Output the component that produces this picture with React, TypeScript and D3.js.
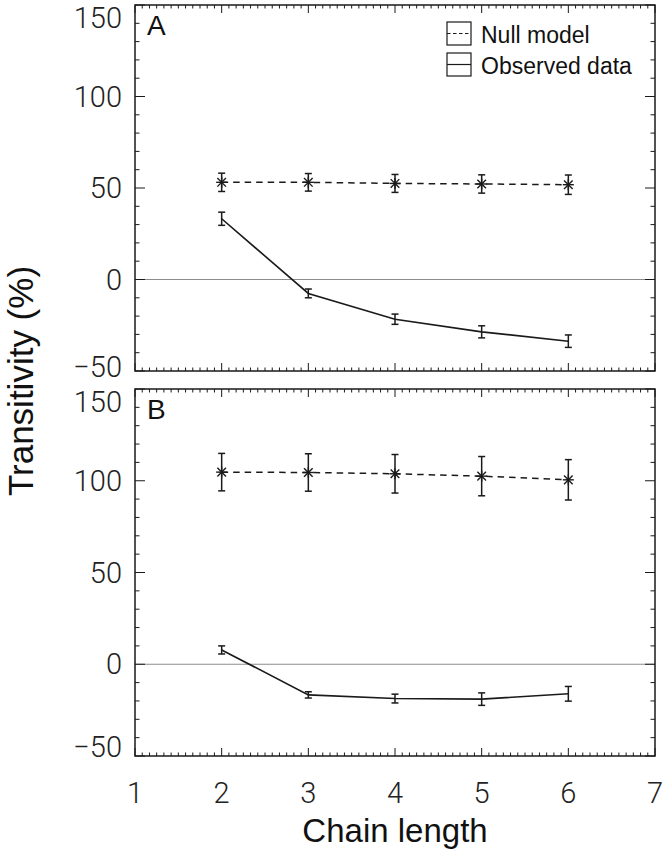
import React from "react";
import * as d3 from "d3";

const chainLength = [2, 3, 4, 5, 6];
const xTickValues = [1, 2, 3, 4, 5, 6, 7];
const yTickValues = [-50, 0, 50, 100, 150];

const nullA = [53.1, 53.1, 52.5, 52.2, 51.8];
const nullAErr = [5.0, 4.8, 4.9, 5.0, 5.3];
const obsA = [33.2, -7.6, -21.7, -28.6, -33.7];
const obsAErr = [3.6, 2.4, 2.8, 3.3, 3.4];

const nullB = [104.7, 104.5, 103.8, 102.5, 100.5];
const nullBErr = [10.2, 10.2, 10.5, 10.7, 11.0];
const obsB = [7.8, -16.7, -18.7, -19.0, -16.1];
const obsBErr = [2.2, 1.7, 2.4, 3.4, 4.0];

const panelLabels = ["A", "B"];
const legendLabels = ["Null model", "Observed data"];
const xTitle = "Chain length";
const yTitle = "Transitivity (%)";

const W = 666;
const H = 855;
const LEFT = 135;
const RIGHT = 655;
const INK = "#1a1a1a";
const TICK_FONT = "Roboto, 'Liberation Sans', Arial, sans-serif";
const TEXT_FONT = "'Liberation Sans', Arial, Helvetica, sans-serif";

const x = d3.scaleLinear().domain([1, 7]).range([LEFT, RIGHT]);
const xMinor = d3.range(1, 7 + 1e-9, 1 / 12);
const yMinor = d3.range(-50, 150 + 1e-9, 10);

type PanelProps = {
  top: number;
  bottom: number;
  label: string;
  nullV: number[];
  nullE: number[];
  obsV: number[];
  obsE: number[];
  isFirst: boolean;
  isLast: boolean;
};

function Panel({ top, bottom, label, nullV, nullE, obsV, obsE, isFirst, isLast }: PanelProps) {
  const y = d3.scaleLinear().domain([-50, 150]).range([bottom, top]);
  const line = d3
    .line<number>()
    .x((_, i) => x(chainLength[i]))
    .y((v) => y(v));
  const cap = 3.5;
  const r = 5.5;
  const rd = 4.3;

  const errBars = (vals: number[], errs: number[], key: string) =>
    vals.map((v, i) => {
      const cx = x(chainLength[i]);
      const y1 = y(v + errs[i]);
      const y2 = y(v - errs[i]);
      return (
        <g key={key + i} stroke={INK} strokeWidth={1.5}>
          <line x1={cx} x2={cx} y1={y1} y2={y2} />
          <line x1={cx - cap} x2={cx + cap} y1={y1} y2={y1} />
          <line x1={cx - cap} x2={cx + cap} y1={y2} y2={y2} />
        </g>
      );
    });

  const labelOffset = (t: number) => {
    if (t === 150) return 13;
    if (t === -50 && isLast) return -9;
    if (t === -50) return -4;
    return 0;
  };

  return (
    <g>
      <line x1={LEFT} x2={RIGHT} y1={y(0)} y2={y(0)} stroke="#8c8c8c" strokeWidth={1.2} />
      {xMinor.map((t, i) => {
        const major = Math.abs(t - Math.round(t)) < 1e-6;
        const len = major ? 8 : 3.5;
        return (
          <g key={"xt" + i} stroke={INK} strokeWidth={1}>
            <line x1={x(t)} x2={x(t)} y1={bottom} y2={bottom - len} />
            <line x1={x(t)} x2={x(t)} y1={top} y2={top + len} />
          </g>
        );
      })}
      {yMinor.map((t, i) => {
        const major = t % 50 === 0;
        const len = major ? 10 : 4.5;
        return (
          <g key={"yt" + i} stroke={INK} strokeWidth={1}>
            <line x1={LEFT} x2={LEFT + len} y1={y(t)} y2={y(t)} />
            <line x1={RIGHT} x2={RIGHT - len} y1={y(t)} y2={y(t)} />
          </g>
        );
      })}
      {yTickValues.map((t) => (
        <text
          key={"yl" + t}
          x={122}
          y={y(t) + labelOffset(t)}
          textAnchor="end"
          dominantBaseline="central"
          fontFamily={TICK_FONT}
          fontWeight={300}
          fontSize={29}
          fill="#222"
        >
          {t < 0 ? "\u2212" + Math.abs(t) : String(t)}
        </text>
      ))}
      <rect x={LEFT} y={top} width={RIGHT - LEFT} height={bottom - top} fill="none" stroke={INK} strokeWidth={1.5} />
      <text x={147} y={top + 30} fontFamily={TEXT_FONT} fontSize={28} fill="#111">
        {label}
      </text>
      <path d={line(nullV) || ""} fill="none" stroke={INK} strokeWidth={1.5} strokeDasharray="6.5,5" />
      {errBars(nullV, nullE, "ne")}
      {nullV.map((v, i) => {
        const cx = x(chainLength[i]);
        const cy = y(v);
        return (
          <g key={"m" + i} stroke={INK} strokeWidth={1.4}>
            <line x1={cx - r} x2={cx + r} y1={cy} y2={cy} />
            <line x1={cx} x2={cx} y1={cy - r} y2={cy + r} />
            <line x1={cx - rd} x2={cx + rd} y1={cy - rd} y2={cy + rd} />
            <line x1={cx - rd} x2={cx + rd} y1={cy + rd} y2={cy - rd} />
          </g>
        );
      })}
      <path d={line(obsV) || ""} fill="none" stroke={INK} strokeWidth={1.6} />
      {errBars(obsV, obsE, "oe")}
      {isLast &&
        xTickValues.map((t) => (
          <text
            key={"xl" + t}
            x={x(t)}
            y={bottom + 37}
            textAnchor="middle"
            dominantBaseline="central"
            fontFamily={TICK_FONT}
            fontWeight={300}
            fontSize={29}
            fill="#222"
          >
            {t}
          </text>
        ))}
      {isFirst && (
        <g>
          {legendLabels.map((lab, i) => {
            const by = 22 + i * 31;
            return (
              <g key={"lg" + i}>
                <rect x={447} y={by} width={24} height={23} fill="none" stroke={INK} strokeWidth={1.2} />
                <line
                  x1={447}
                  x2={471}
                  y1={by + 11.5}
                  y2={by + 11.5}
                  stroke={INK}
                  strokeWidth={1.2}
                  strokeDasharray={i === 0 ? "3.5,2.5" : undefined}
                />
                <text x={481} y={by + 21} fontFamily={TEXT_FONT} fontSize={23} fill="#111">
                  {lab}
                </text>
              </g>
            );
          })}
        </g>
      )}
    </g>
  );
}

export default function App() {
  return (
    <svg
      width={W}
      height={H}
      viewBox={`0 0 ${W} ${H}`}
      style={{ position: "absolute", left: 0, top: 0, background: "#fff" }}
    >
      <rect x={0} y={0} width={W} height={H} fill="#fff" />
      <Panel
        top={5}
        bottom={371}
        label={panelLabels[0]}
        nullV={nullA}
        nullE={nullAErr}
        obsV={obsA}
        obsE={obsAErr}
        isFirst={true}
        isLast={false}
      />
      <Panel
        top={389}
        bottom={756}
        label={panelLabels[1]}
        nullV={nullB}
        nullE={nullBErr}
        obsV={obsB}
        obsE={obsBErr}
        isFirst={false}
        isLast={true}
      />
      <text x={395} y={842} textAnchor="middle" fontFamily={TEXT_FONT} fontSize={33} fill="#111">
        {xTitle}
      </text>
      <text
        transform={`translate(33,381) rotate(-90)`}
        textAnchor="middle"
        fontFamily={TEXT_FONT}
        fontSize={35}
        fill="#111"
      >
        {yTitle}
      </text>
    </svg>
  );
}
